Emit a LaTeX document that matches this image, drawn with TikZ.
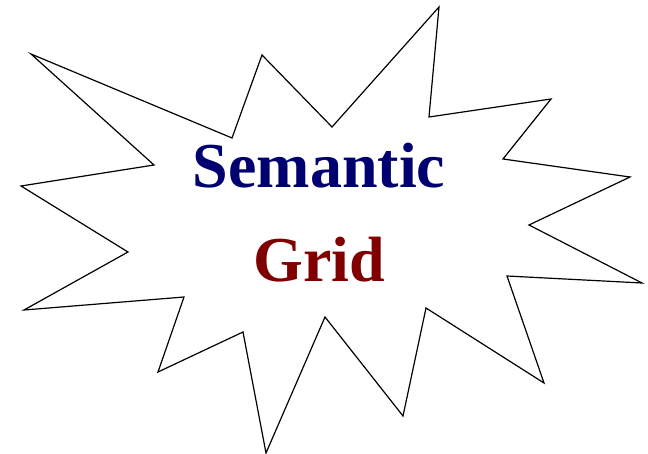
\documentclass[tikz,border=0pt]{standalone}
\usepackage{fontspec}
\setmainfont{Liberation Serif}
\usepackage{tikz}
\definecolor{semblue}{HTML}{000070}
\definecolor{gridred}{HTML}{800000}
\tikzset{burst/.style={draw=black,line width=1.2pt,line join=miter,fill=white},
  word/.style={font=\fontsize{64}{70}\selectfont\bfseries,anchor=base,inner sep=0pt}}

\begin{document}
\begin{tikzpicture}[x=1pt,y=-1pt]
\useasboundingbox (0,0) rectangle (648,454);
\draw[burst] (31,54) -- (232,138) -- (262,55) -- (332,127) -- (439,7) -- (429,117)
  -- (551,99) -- (503,159) -- (630,177) -- (529,225) -- (642,283) -- (507,276)
  -- (544,383) -- (426,308) -- (403,416) -- (325,317) -- (266,453) -- (243,332)
  -- (158,372) -- (184,297) -- (24,310) -- (128,252) -- (21,186) -- (154,165) -- cycle;
\node[word,text=semblue] (sem) at (319,188) {Semantic};
\node[word,text=gridred] (grid) at (319,282) {Grid};
\end{tikzpicture}
\end{document}
